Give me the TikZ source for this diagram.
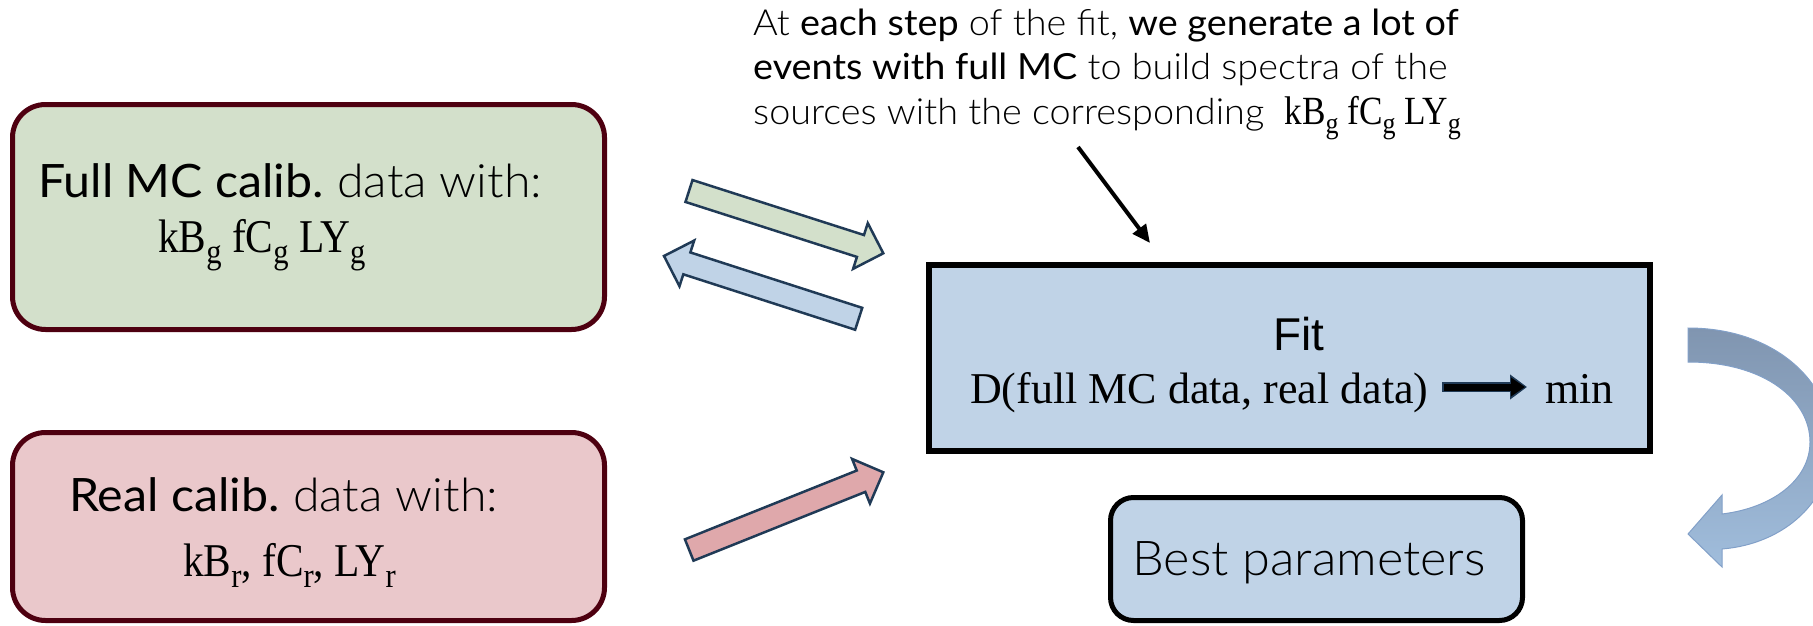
\documentclass[tikz,border=0pt]{standalone}
\usepackage{fontspec}
\usepackage{graphicx}
\setmainfont{Lato}[UprightFont={* Light}, BoldFont={*}, FakeStretch=1.05]
\newfontfamily\serifcm{Liberation Serif}[FakeStretch=0.88]
\newfontfamily\serifd{Liberation Serif}
\newfontfamily\arialf{Liberation Sans}
\usetikzlibrary{calc,arrows.meta}
\definecolor{gfill}{RGB}{211,224,203}
\definecolor{rfill}{RGB}{234,200,203}
\definecolor{bfill}{RGB}{192,211,231}
\definecolor{rarrow}{RGB}{223,168,171}
\definecolor{maroon}{RGB}{78,0,16}
\definecolor{navy}{RGB}{32,58,86}
\definecolor{ctop}{RGB}{128,149,176}
\definecolor{cbot}{RGB}{160,189,220}
\definecolor{cedge}{RGB}{130,160,200}
\newcommand\blockarrow[3]{%
  \path ($(#2)!24pt!(#1)$) coordinate (hb);
  \filldraw[fill=#3, draw=navy, line width=2.5pt, line join=miter]
    ($(#1)!11.5pt!90:(#2)$) -- ($(hb)!11.5pt!90:(#2)$) -- ($(hb)!24pt!90:(#2)$)
    -- (#2) -- ($(hb)!24pt!-90:(#2)$) -- ($(hb)!11.5pt!-90:(#2)$)
    -- ($(#1)!11.5pt!-90:(#2)$) -- cycle;}
\newcommand\sbs[1]{\raisebox{-0.24em}{\scalebox{0.74}{#1}}}
\tikzset{
  calibbox/.style={draw=maroon, line width=5pt, rounded corners=33pt, inner sep=0pt},
  fitbox/.style={draw=black, fill=bfill, line width=6pt, inner sep=0pt},
  bestbox/.style={draw=black, fill=bfill, line width=5pt, rounded corners=23pt, inner sep=0pt},
  txt/.style={inner sep=0pt, anchor=base west},
}
\begin{document}
\begin{tikzpicture}[x=1pt,y=-1pt]
\useasboundingbox (0,0) rectangle (1813,626);
% boxes
\node[calibbox, fill=gfill, minimum width=592pt, minimum height=225pt] (gbox) at (308.5,217) {};
\node[calibbox, fill=rfill, minimum width=592pt, minimum height=188pt] (rbox) at (308.5,526.5) {};
\node[fitbox, minimum width=721pt, minimum height=186pt] (fbox) at (1289.5,358) {};
\node[bestbox, minimum width=412pt, minimum height=123pt] (bbox) at (1316.5,559) {};
% green box text
\node[txt, font=\fontsize{46}{54}\selectfont] (g1) at (38,197) {\textbf{Full MC calib.}\hspace{-4pt} data with:};
\node[txt, font=\serifcm\fontsize{47}{54}\selectfont] (g2) at (158,252) {kB\sbs{g} fC\sbs{g} LY\sbs{g}};
% red box text
\node[txt, font=\fontsize{46}{54}\selectfont] (r1) at (69,511) {\textbf{Real calib.}\hspace{-4pt} data with:};
\node[txt, font=\serifcm\fontsize{47}{54}\selectfont] (r2) at (183,576) {kB\sbs{r}, fC\sbs{r}, LY\sbs{r}};
% fit box text
\node[inner sep=0pt, anchor=base, font=\arialf\fontsize{46}{54}\selectfont] (fit) at (1299,350) {Fit};
\node[txt, font=\serifd\fontsize{44}{50}\selectfont] (dtext) at (970,403) {D(full MC data, real data)};
\node[txt, font=\serifd\fontsize{44}{50}\selectfont] (mintext) at (1545,403) {min};
\coordinate (sa) at (1442,387);
\coordinate (sb) at (1527,387);
\draw[navy, line width=10pt, -{Triangle[length=17pt,width=24pt]}] (sa) -- (sb);
\draw[black, line width=7pt, -{Triangle[length=14pt,width=18pt]}] ($(sa)+(1.5,0)$) -- ($(sb)+(-2,0)$);
% best parameters
\node[inner sep=0pt, anchor=base, font=\fontsize{48}{56}\selectfont] (best) at (1309,575) {Best parameters};
% top text
\node[txt, font=\fontsize{36}{42}\selectfont] (t1) at (753,36) {At \textbf{each step} of the fit, \textbf{we generate a lot of}};
\node[txt, font=\fontsize{36}{42}\selectfont] (t2) at (753,80) {\textbf{events with full MC} to build spectra of the};
\node[txt, font=\fontsize{36}{42}\selectfont] (t3) at (753,124) {sources with the corresponding\ \ {\serifcm\fontsize{40}{42}\selectfont kB\sbs{g} fC\sbs{g} LY\sbs{g}}};
% black pointer
\coordinate (pa) at (1078,147);
\coordinate (pb) at (1150,243);
\draw[line width=4pt, -{Triangle[length=18pt,width=16pt]}] (pa) -- (pb);
% block arrows
\coordinate (gt) at (689,191);   \coordinate (gp) at (883.3,253.3);
\coordinate (bt) at (858.7,318.8); \coordinate (bp) at (664,256);
\coordinate (rt) at (689.2,550);  \coordinate (rp) at (883.3,472.3);
\blockarrow{gt}{gp}{gfill}
\blockarrow{bt}{bp}{bfill}
\blockarrow{rt}{rp}{rarrow}
% curved arrow
\shade[top color=ctop, bottom color=cbot, draw=cedge, line width=1pt]
  (1688,328) .. controls (1775,328) and (1832,382) .. (1832,444)
  .. controls (1832,500) and (1785,544) .. (1722,549)
  -- (1722,567) -- (1688,534) -- (1722,495) -- (1722,514)
  .. controls (1772,508) and (1810,480) .. (1810,442)
  .. controls (1810,400) and (1765,362) .. (1688,362) -- cycle;
\end{tikzpicture}
\end{document}
